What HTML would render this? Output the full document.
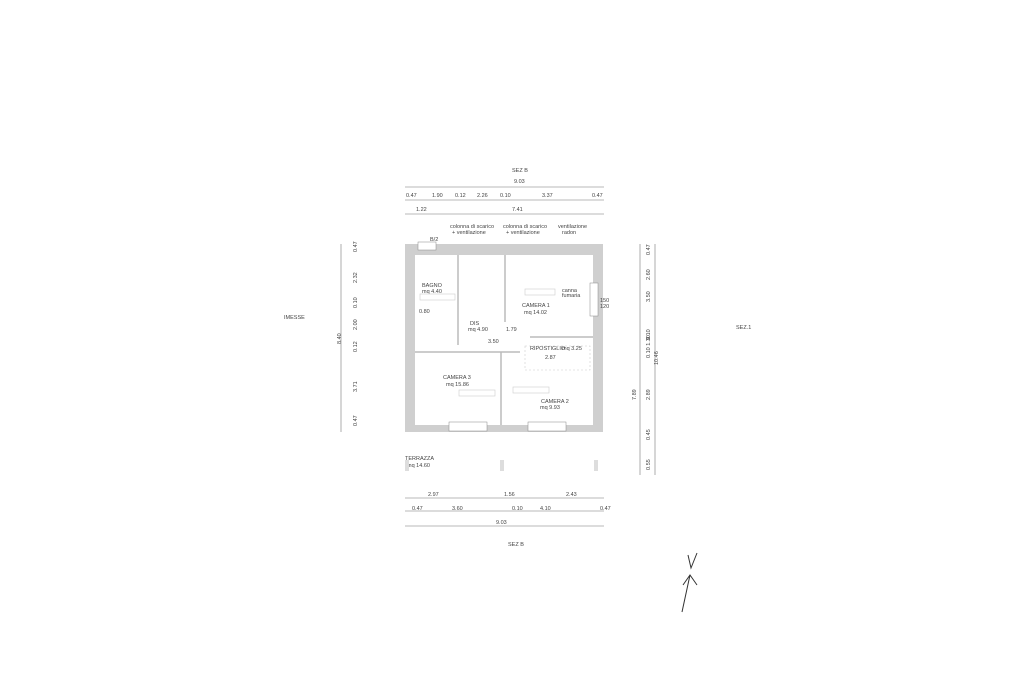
<!DOCTYPE html>
<html><head><meta charset="utf-8"><style>
html,body{margin:0;padding:0;background:#fff;}
svg{display:block;font-family:"Liberation Sans",sans-serif;}
text{fill:#444;font-size:5.5px;}
</style></head><body>
<svg width="1024" height="682" viewBox="0 0 1024 682">
<rect width="1024" height="682" fill="#fff"/>
<!-- top dims -->
<text x="512" y="172" font-size="5">SEZ B</text>
<text x="514" y="183">9.03</text>
<line x1="405" y1="187" x2="604" y2="187" stroke="#777" stroke-width="0.6"/>
<g font-size="5.5"><text x="406" y="197">0.47</text><text x="432" y="197">1.90</text><text x="455" y="197">0.12</text><text x="477" y="197">2.26</text><text x="500" y="197">0.10</text><text x="542" y="197">3.37</text><text x="592" y="197">0.47</text></g>
<line x1="405" y1="200" x2="604" y2="200" stroke="#777" stroke-width="0.6"/>
<text x="416" y="211">1.22</text><text x="512" y="211">7.41</text>
<line x1="405" y1="214" x2="604" y2="214" stroke="#777" stroke-width="0.6"/>
<g font-size="4.5"><text x="450" y="228">colonna di scarico</text><text x="452" y="234">+ ventilazione</text><text x="503" y="228">colonna di scarico</text><text x="506" y="234">+ ventilazione</text><text x="558" y="228">ventilazione</text><text x="562" y="234">radon</text></g>
<text x="284" y="319" font-size="9" fill="#222">IMESSE</text>
<text x="736" y="329" font-size="5">SEZ.1</text>
<!-- plan walls -->
<path fill="#cfcfcf" fill-rule="evenodd" d="M405 244H603V432H405Z M415 255H593V425H415Z"/>
<rect x="418" y="242" width="18" height="8" fill="#fff" stroke="#888" stroke-width="0.5"/>
<rect x="590" y="283" width="8" height="33" fill="#fff" stroke="#888" stroke-width="0.5"/>
<rect x="449" y="422" width="38" height="9" fill="#fff" stroke="#888" stroke-width="0.5"/>
<rect x="528" y="422" width="38" height="9" fill="#fff" stroke="#888" stroke-width="0.5"/>
<g stroke="#bbb" stroke-width="1.5" fill="none">
<line x1="458" y1="255" x2="458" y2="345"/>
<line x1="505" y1="255" x2="505" y2="322"/>
<line x1="415" y1="352" x2="520" y2="352"/>
<line x1="501" y1="352" x2="501" y2="425"/>
<line x1="530" y1="337" x2="593" y2="337"/>
</g>
<rect x="525" y="346" width="65" height="24" fill="none" stroke="#ccc" stroke-width="0.6" stroke-dasharray="2,2"/>
<g font-size="5"><text x="422" y="287">BAGNO</text><text x="422" y="293">mq 4.40</text><text x="419" y="313">0.80</text>
<text x="470" y="325">DIS</text><text x="468" y="331">mq 4.90</text><text x="488" y="343">3.50</text><text x="506" y="331">1.79</text>
<text x="522" y="307">CAMERA 1</text><text x="524" y="314">mq 14.02</text>
<text x="530" y="350">RIPOSTIGLIO</text><text x="562" y="350">mq 3.25</text><text x="545" y="359">2.87</text>
<text x="443" y="379">CAMERA 3</text><text x="446" y="386">mq 15.86</text>
<text x="541" y="403">CAMERA 2</text><text x="540" y="409">mq 9.93</text>
<text x="430" y="241">B/2</text><text x="600" y="302" font-size="4.5">150</text><text x="600" y="308" font-size="4.5">120</text>
<text x="562" y="292" font-size="4">canna</text><text x="562" y="297" font-size="4">fumaria</text>
<text x="405" y="460">TERRAZZA</text><text x="407" y="467">mq 14.60</text></g>
<g fill="none" stroke="#ccc" stroke-width="0.6">
<rect x="420" y="294" width="35" height="6"/><rect x="525" y="289" width="30" height="6"/>
<rect x="459" y="390" width="36" height="6"/><rect x="513" y="387" width="36" height="6"/></g>
<rect x="405" y="460" width="4" height="11" fill="#ddd"/><rect x="500" y="460" width="4" height="11" fill="#ddd"/><rect x="594" y="460" width="4" height="11" fill="#ddd"/>
<!-- bottom dims -->
<line x1="405" y1="498" x2="604" y2="498" stroke="#777" stroke-width="0.6"/>
<text x="428" y="496">2.97</text><text x="504" y="496">1.56</text><text x="566" y="496">2.43</text>
<line x1="405" y1="511" x2="604" y2="511" stroke="#777" stroke-width="0.6"/>
<text x="412" y="510">0.47</text><text x="452" y="510">3.60</text><text x="512" y="510">0.10</text><text x="540" y="510">4.10</text><text x="600" y="510">0.47</text>
<line x1="405" y1="526" x2="604" y2="526" stroke="#777" stroke-width="0.6"/>
<text x="496" y="524">9.03</text><text x="508" y="546" font-size="5">SEZ B</text>
<!-- left dims -->
<line x1="341" y1="244" x2="341" y2="432" stroke="#777" stroke-width="0.6"/>
<g font-size="5.5">
<text transform="translate(357,252) rotate(-90)">0.47</text><text transform="translate(357,283) rotate(-90)">2.32</text>
<text transform="translate(357,308) rotate(-90)">0.10</text><text transform="translate(357,330) rotate(-90)">2.00</text>
<text transform="translate(357,352) rotate(-90)">0.12</text><text transform="translate(357,392) rotate(-90)">3.71</text>
<text transform="translate(357,426) rotate(-90)">0.47</text><text transform="translate(341,344) rotate(-90)">8.40</text>
<!-- right dims -->
<text transform="translate(650,255) rotate(-90)">0.47</text><text transform="translate(650,280) rotate(-90)">2.60</text>
<text transform="translate(650,302) rotate(-90)">3.50</text><text transform="translate(650,340) rotate(-90)">0.10</text>
<text transform="translate(650,358) rotate(-90)">0.10 1.30</text><text transform="translate(650,400) rotate(-90)">2.89</text>
<text transform="translate(650,440) rotate(-90)">0.45</text><text transform="translate(650,470) rotate(-90)">0.55</text>
<text transform="translate(636,400) rotate(-90)">7.89</text><text transform="translate(658,365) rotate(-90)">10.46</text></g>
<line x1="640" y1="244" x2="640" y2="475" stroke="#777" stroke-width="0.6"/>
<line x1="655" y1="244" x2="655" y2="475" stroke="#777" stroke-width="0.6"/>
<!-- north arrow -->
<path d="M688 555 L691 568 L697 553 M683 585 L690 575 L697 585 M690 575 L682 612" fill="none" stroke="#333" stroke-width="1"/>
</svg>
</body></html>
